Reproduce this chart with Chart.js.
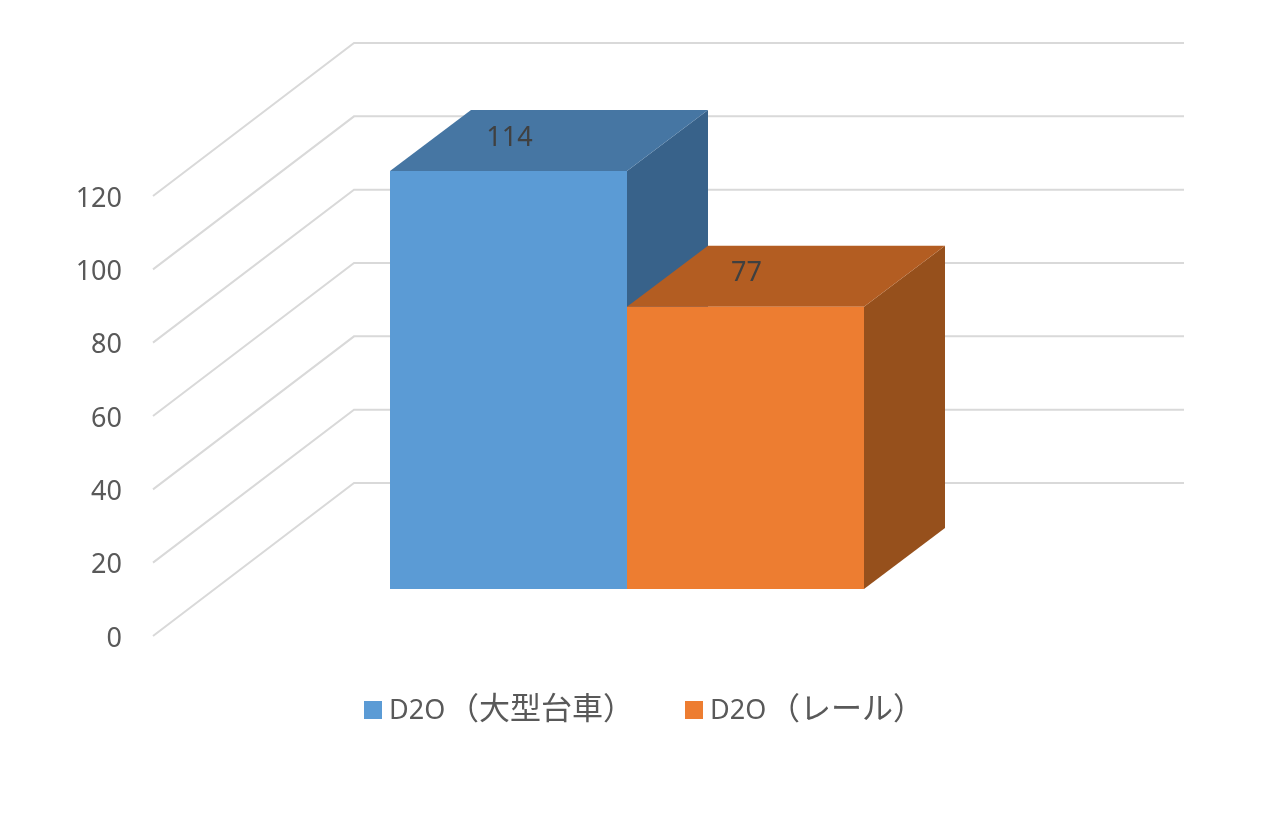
<!DOCTYPE html>
<html>
<head>
  <meta charset="utf-8">
  <title>D2O</title>
  <script src="https://cdn.jsdelivr.net/npm/chart.js"></script>
  <style>
    html, body { margin: 0; padding: 0; background: #fff; }
    canvas { display: block; }
  </style>
</head>
<body>
  <canvas id="chart" width="1275" height="833"></canvas>
  <script>
    const categories = ['D2O'];
    const seriesNames = ['D2O（大型台車）', 'D2O（レール）'];
    const seriesValues = [[114], [77]];
    const frontColors = ['#5B9BD5', '#ED7D31'];
    const topColors = ['#4676A3', '#B35D22'];
    const sideColors = ['#38628A', '#96501C'];
    const legendBoxX = [364, 685];

    const textColor = '#595959';
    const fontFamily = '"Noto Sans", "Noto Sans CJK JP", sans-serif';
    const cjkFamily = '"Noto Sans CJK JP", sans-serif';
    const wallDx = 201, wallDy = -153;   // front plane -> back wall
    const barDx = 61, barDy = -47;       // front plane -> bar front
    const depthDx = 81, depthDy = -61;   // bar depth

    function poly(ctx, color, pts) {
      ctx.fillStyle = color;
      ctx.beginPath();
      pts.forEach((p, i) => i ? ctx.lineTo(p[0], p[1]) : ctx.moveTo(p[0], p[1]));
      ctx.closePath();
      ctx.fill();
    }

    const box3d = {
      id: 'box3d',
      beforeDatasetsDraw(chart) {
        const ctx = chart.ctx, area = chart.chartArea, y = chart.scales.y;
        ctx.save();
        // walls
        ctx.strokeStyle = '#D9D9D9';
        ctx.lineWidth = 2;
        y.ticks.forEach(t => {
          const py = y.getPixelForValue(t.value);
          ctx.beginPath();
          ctx.moveTo(area.left, py);
          ctx.lineTo(area.left + wallDx, py + wallDy);
          ctx.lineTo(area.right + wallDx + 4, py + wallDy);
          ctx.stroke();
        });
        // top and side faces, first series first so the next one covers it
        seriesValues.forEach((vals, i) => {
          chart.getDatasetMeta(i).data.forEach(bar => {
            const l = bar.x - bar.width / 2 + barDx, r = bar.x + bar.width / 2 + barDx;
            const t = bar.y + barDy, b = bar.base + barDy;
            poly(ctx, sideColors[i], [[r, t], [r + depthDx, t + depthDy], [r + depthDx, b + depthDy], [r, b]]);
            poly(ctx, topColors[i], [[l, t], [l + depthDx, t + depthDy], [r + depthDx, t + depthDy], [r, t]]);
          });
        });
        ctx.restore();
        ctx.save();
        ctx.translate(barDx, barDy);
      },
      afterDatasetsDraw(chart) {
        const ctx = chart.ctx;
        ctx.restore();
        ctx.save();
        ctx.fillStyle = '#404040';
        ctx.font = '27px ' + fontFamily;
        ctx.textAlign = 'center';
        ctx.textBaseline = 'middle';
        seriesValues.forEach((vals, i) => {
          chart.getDatasetMeta(i).data.forEach((bar, j) => {
            ctx.fillText(String(vals[j]), bar.x + barDx + 1, bar.y + barDy - 33);
          });
        });
        // legend: latin part and kana/kanji part have different sizes in the original
        ctx.textAlign = 'left';
        ctx.textBaseline = 'alphabetic';
        seriesNames.forEach((name, i) => {
          const x = legendBoxX[i];
          ctx.fillStyle = frontColors[i];
          ctx.fillRect(x, 701, 18, 18);
          ctx.fillStyle = textColor;
          ctx.font = '27px ' + fontFamily;
          ctx.fillText(name.slice(0, 3), x + 25, 719);
          ctx.font = '31px ' + cjkFamily;
          ctx.fillText(name.slice(3), x + 84, 719);
        });
        ctx.restore();
      }
    };

    new Chart(document.getElementById('chart').getContext('2d'), {
      type: 'bar',
      plugins: [box3d],
      data: {
        labels: categories,
        datasets: seriesNames.map((name, i) => ({
          label: name,
          data: seriesValues[i],
          backgroundColor: frontColors[i],
          borderWidth: 0,
          barPercentage: 1,
          categoryPercentage: 474 / 826
        }))
      },
      options: {
        responsive: false,
        animation: false,
        devicePixelRatio: 1,
        layout: { padding: { top: 196, right: 296, bottom: 189, left: 0 } },
        plugins: {
          tooltip: { enabled: false },
          title: { display: false },
          legend: { display: false }
        },
        scales: {
          x: {
            ticks: { display: false },
            grid: { display: false },
            border: { display: false }
          },
          y: {
            min: 0,
            max: 120,
            afterFit(scale) { scale.width = 153; },
            ticks: {
              stepSize: 20,
              padding: 23,
              labelOffset: 3,
              color: textColor,
              font: { size: 27, family: fontFamily }
            },
            grid: { display: false },
            border: { display: false }
          }
        }
      }
    });
  </script>
</body>
</html>
